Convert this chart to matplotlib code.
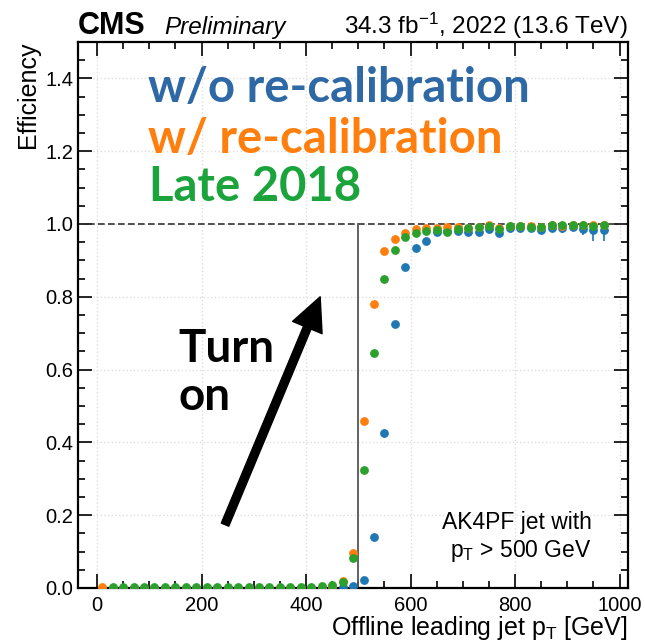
import numpy as np
import matplotlib.pyplot as plt
from matplotlib.ticker import AutoMinorLocator, MultipleLocator

plt.rcParams['font.family'] = ['Liberation Sans', 'DejaVu Sans']
plt.rcParams['mathtext.fontset'] = 'custom'
plt.rcParams['mathtext.rm'] = 'Liberation Sans'
plt.rcParams['mathtext.it'] = 'Liberation Sans:italic'

# bin centres [GeV]
pt = [10, 30, 50, 70, 90, 110, 130, 150, 170, 190,
      210, 230, 250, 270, 290, 310, 330, 350, 370, 390,
      410, 430, 450, 470, 490, 510, 530, 550, 570, 590,
      610, 630, 650, 670, 690, 710, 730, 750, 770, 790,
      810, 830, 850, 870, 890, 910, 930, 950, 970]

# w/o re-calibration
eff_old = [0.0, 0.0, 0.0, 0.0, 0.0, 0.0, 0.0, 0.0, 0.0, 0.0,
           0.0, 0.0, 0.0, 0.0, 0.0, 0.0, 0.0, 0.0, 0.0, 0.0,
           0.0, 0.0, 0.0, 0.002, 0.005, 0.022, 0.14, 0.425, 0.725, 0.882,
           0.933, 0.954, 0.977, 0.98, 0.98, 0.978, 0.978, 0.986, 0.976, 0.99,
           0.99, 0.99, 0.983, 0.99, 0.988, 0.992, 0.985, 0.984, 0.984]
err_old_lo = [0.0] * 36 + [0.005, 0.0, 0.006, 0.0, 0.0, 0.0, 0.006, 0.0, 0.012, 0.0, 0.015, 0.032, 0.03]
err_old_hi = [0.0] * 36 + [0.003, 0.0, 0.003, 0.0, 0.0, 0.0, 0.003, 0.0, 0.004, 0.0, 0.004, 0.006, 0.006]

# w/ re-calibration
eff_new = [0.003, 0.001, 0.001, 0.001, 0.001, 0.001, 0.001, 0.001, 0.001, 0.001,
           0.001, 0.001, 0.001, 0.001, 0.001, 0.001, 0.001, 0.001, 0.001, 0.001,
           0.001, 0.002, 0.006, 0.02, 0.095, 0.46, 0.78, 0.925, 0.96, 0.976,
           0.987, 0.99, 0.99, 0.991, 0.992, 0.99, 0.993, 0.996, 0.99, 0.995,
           0.994, 0.995, 0.993, 0.996, 0.995, 0.996, 0.996, 0.997, 0.997]

# Late 2018
eff_2018 = [np.nan, 0.003, 0.003, 0.003, 0.003, 0.003, 0.003, 0.003, 0.003, 0.003,
            0.003, 0.003, 0.003, 0.003, 0.003, 0.003, 0.003, 0.003, 0.003, 0.003,
            0.004, 0.005, 0.009, 0.017, 0.083, 0.325, 0.645, 0.85, 0.928, 0.964,
            0.975, 0.98, 0.983, 0.979, 0.986, 0.989, 0.991, 0.995, 0.986, 0.995,
            0.995, 0.993, 0.991, 0.996, 0.996, 0.997, 0.996, 0.995, 0.998]

fig = plt.figure(figsize=(6.45, 6.44), dpi=100)
ax = fig.add_axes([0.1209, 0.0870, 0.8527, 0.8478])

ms = 5.3
ax.errorbar(pt, eff_old, yerr=[err_old_lo, err_old_hi], fmt='o', color='#1f77b4',
            ms=ms, elinewidth=1.2, capsize=0, zorder=3)
ax.plot(pt, eff_new, 'o', color='#ff7f0e', ms=ms, zorder=4)
ax.plot(pt, eff_2018, 'o', color='#2ca02c', ms=ms, zorder=5)

ax.axhline(1.0, color='#333333', ls=(0, (4, 2)), lw=1.2, zorder=2)
ax.plot([500, 500], [0, 1.0], color='#555555', lw=1.3, zorder=2)

ax.set_xlim(-36.4, 1016)
ax.set_ylim(0, 1.5)
ax.xaxis.set_major_locator(MultipleLocator(200))
ax.yaxis.set_major_locator(MultipleLocator(0.2))
ax.xaxis.set_minor_locator(AutoMinorLocator(4))
ax.yaxis.set_minor_locator(AutoMinorLocator(4))
ax.tick_params(which='both', direction='in', top=True, right=True, labelsize=14.5, width=1.2)
ax.tick_params(which='major', length=10)
ax.tick_params(which='minor', length=5)
ax.tick_params(axis='x', pad=6)
for s in ax.spines.values():
    s.set_linewidth(1.6)
ax.grid(True, which='major', color='#dedede', ls=':', lw=1)
ax.set_axisbelow(True)

ax.set_xlabel(r'Offline leading jet p$_\mathrm{T}$ [GeV]', fontsize=18, loc='right', labelpad=-1)
ax.set_ylabel('Efficiency', fontsize=18, loc='top')

ax.text(0, 1.015, 'CMS', transform=ax.transAxes, fontsize=22, fontweight='bold', va='baseline')
ax.text(0.156, 1.015, 'Preliminary', transform=ax.transAxes, fontsize=17.5, style='italic', va='baseline')
ax.text(1.0, 1.015, r'34.3 fb$^{-1}$, 2022 (13.6 TeV)', transform=ax.transAxes, fontsize=17.5,
        ha='right', va='baseline')

lato = ['Lato', 'DejaVu Sans']
ax.text(97, 1.335, 'w/o re-calibration', color='#2e69a6', fontsize=34, fontweight='bold', family=lato)
ax.text(97, 1.195, 'w/ re-calibration', color='#ff7f0e', fontsize=34, fontweight='bold', family=lato)
ax.text(99, 1.064, 'Late 2018', color='#1ba33c', fontsize=34, fontweight='bold', family=lato)

ax.text(155, 0.62, 'Turn', color='black', fontsize=33, fontweight='bold', family=lato)
ax.text(155, 0.49, 'on', color='black', fontsize=33, fontweight='bold', family=lato)
ax.annotate('', xy=(427, 0.80), xytext=(245, 0.174),
            arrowprops=dict(width=5.8, headwidth=23, headlength=24, shrink=0, color='black'))

ax.text(947, 0.138, 'AK4PF jet with\np$_\\mathrm{T}$ > 500 GeV', fontsize=16.5, ha='right', va='center',
        multialignment='right', linespacing=1.2)

fig.savefig('out.png', dpi=100)
